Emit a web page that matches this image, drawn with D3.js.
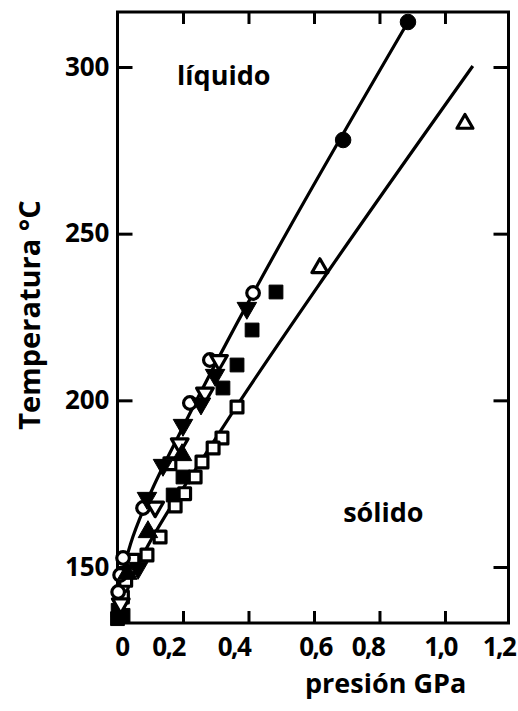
<!DOCTYPE html>
<html>
<head>
<meta charset="utf-8">
<script src="https://cdn.jsdelivr.net/npm/d3@7"></script>
<style>
  body { margin: 0; background: #fff; }
  svg text { font-family: "Open Sans", sans-serif; font-weight: 700; fill: #000; }
</style>
</head>
<body>
<script>
"use strict";

// tick values
var xTicks = [0, 0.2, 0.4, 0.6, 0.8, 1.0, 1.2];
var yTicks = [150, 200, 250, 300];

// drawn curves, [pressure GPa, temperature C]
var upperLine = [[0.002,136],[0.012,146],[0.04,157],[0.1,172],[0.2,192],[0.887,313.5]];
var lowerLine = [[0.012,135],[0.03,143],[0.08,154],[0.15,166],[0.25,181],[0.362,198],[0.64,238.2],[1.085,300.3]];

// measured points, one array per symbol
var filledCircles = [[0.887,313.5],[0.689,278.1]];
var openTrianglesUp = [[1.061,283],[0.618,239.7]];
var filledSquares = [[0.484,232.5],[0.411,221.1],[0.365,210.6],[0.322,203.7],[0.2,177],[0.17,171.6],
                     [0.002,137],[0.017,135.5],[0.0,134.5]];
var openSquares = [[0.365,198],[0.319,188.7],[0.292,185.7],[0.258,181.5],[0.237,177],[0.205,172],
                   [0.176,168.3],[0.16,181],[0.13,159],[0.09,153.6],[0.047,152],[0.025,146],[0.015,141]];
var openCircles = [[0.414,232.2],[0.282,212.1],[0.221,199.2],[0.078,167.7],[0.017,152.7],
                   [0.008,147.6],[0.002,142.5]];
var filledTrianglesDown = [[0.395,227.7],[0.298,207.6],[0.255,199],[0.2,192.6],[0.139,180.6],
                           [0.09,170.7],[0.063,149.7]];
var openTrianglesDown = [[0.31,212],[0.267,202.2],[0.19,187],[0.115,168],[0.01,139]];
var filledTrianglesUp = [[0.197,183.6],[0.093,160.5],[0.03,148]];

var svg = d3.select("body").append("svg")
    .attr("width", 518)
    .attr("height", 711);

// scales, frame is the plot box
var frame = {left: 117.5, right: 508.5, top: 12, bottom: 623};
var x = d3.scaleLinear().domain([0, 1.194]).range([frame.left, frame.right]);
var y = d3.scaleLinear().domain([133.2, 316.5]).range([frame.bottom, frame.top]);

// the hand lettered x labels sit a little off their ticks
var xLabelShift = [4, -15, -15, 1, -12, -5, -12];

var commaFormat = function(d){ return d === 0 ? "0" : d3.format(".1f")(d).replace(".", ","); };

// axes
var gBottom = svg.append("g")
    .attr("transform", "translate(0," + frame.bottom + ")")
    .call(d3.axisBottom(x).tickValues(xTicks).tickSizeInner(-12).tickSizeOuter(0)
      .tickPadding(15).tickFormat(commaFormat));
gBottom.selectAll(".tick line").filter(function(d){ return d === 0 || d === 1.2; }).remove();
gBottom.selectAll(".tick text")
    .attr("x", function(d, i){ return xLabelShift[i]; })
    .attr("letter-spacing", -1.5);

svg.append("g")
    .attr("transform", "translate(0," + frame.top + ")")
    .call(d3.axisTop(x).tickValues(xTicks.slice(1, -1)).tickSizeInner(-12).tickSizeOuter(0).tickFormat(""));

svg.append("g")
    .attr("transform", "translate(" + frame.left + ",0)")
    .call(d3.axisLeft(y).tickValues(yTicks).tickSizeInner(-15).tickSizeOuter(0).tickPadding(8));

svg.append("g")
    .attr("transform", "translate(" + frame.right + ",0)")
    .call(d3.axisRight(y).tickValues(yTicks).tickSizeInner(-15).tickSizeOuter(0).tickFormat(""));

svg.selectAll(".domain").remove();
svg.selectAll(".tick line").attr("stroke-width", 3);
svg.selectAll(".tick text").attr("font-size", 26).attr("font-family", null);

svg.append("rect")
    .attr("x", frame.left)
    .attr("y", frame.top)
    .attr("width", frame.right - frame.left)
    .attr("height", frame.bottom - frame.top)
    .attr("fill", "none")
    .attr("stroke", "#000")
    .attr("stroke-width", 3);

// curves
var line = d3.line()
    .x(function(d){ return x(d[0]); })
    .y(function(d){ return y(d[1]); })
    .curve(d3.curveMonotoneY);

svg.selectAll(".curve").data([upperLine, lowerLine]).enter()
  .append("path")
    .attr("class", "curve")
    .attr("d", line)
    .attr("fill", "none")
    .attr("stroke", "#000")
    .attr("stroke-width", 3.2);

// markers
var markerSets = [
  {pts: openSquares, type: d3.symbolSquare, size: 140, open: true, rot: 0},
  {pts: filledSquares, type: d3.symbolSquare, size: 190, open: false, rot: 0},
  {pts: openCircles, type: d3.symbolCircle, size: 125, open: true, rot: 0},
  {pts: openTrianglesDown, type: d3.symbolTriangle, size: 120, open: true, rot: 180},
  {pts: filledTrianglesDown, type: d3.symbolTriangle, size: 165, open: false, rot: 180},
  {pts: filledTrianglesUp, type: d3.symbolTriangle, size: 165, open: false, rot: 0},
  {pts: openTrianglesUp, type: d3.symbolTriangle, size: 110, open: true, rot: 0},
  {pts: filledCircles, type: d3.symbolCircle, size: 190, open: false, rot: 0}
];

markerSets.forEach(function(set){
  svg.append("g").selectAll("path").data(set.pts).enter()
    .append("path")
      .attr("d", d3.symbol().type(set.type).size(set.size))
      .attr("transform", function(d){
        return "translate(" + x(d[0]) + "," + y(d[1]) + ") rotate(" + set.rot + ")";
      })
      .attr("fill", set.open ? "#fff" : "#000")
      .attr("stroke", "#000")
      .attr("stroke-width", set.open ? 3.2 : 1)
      .attr("stroke-linejoin", "round");
});

// labels
svg.append("text")
    .attr("x", x(0.182))
    .attr("y", y(294.6))
    .attr("font-size", 27)
    .text("líquido");

svg.append("text")
    .attr("x", x(0.689))
    .attr("y", y(163.5))
    .attr("font-size", 27)
    .text("sólido");

svg.append("text")
    .attr("x", 305)
    .attr("y", 693)
    .attr("font-size", 27)
    .text("presión GPa");

svg.append("text")
    .attr("transform", "translate(40,315) rotate(-90)")
    .attr("text-anchor", "middle")
    .attr("font-size", 29)
    .text("Temperatura °C");
</script>
</body>
</html>
